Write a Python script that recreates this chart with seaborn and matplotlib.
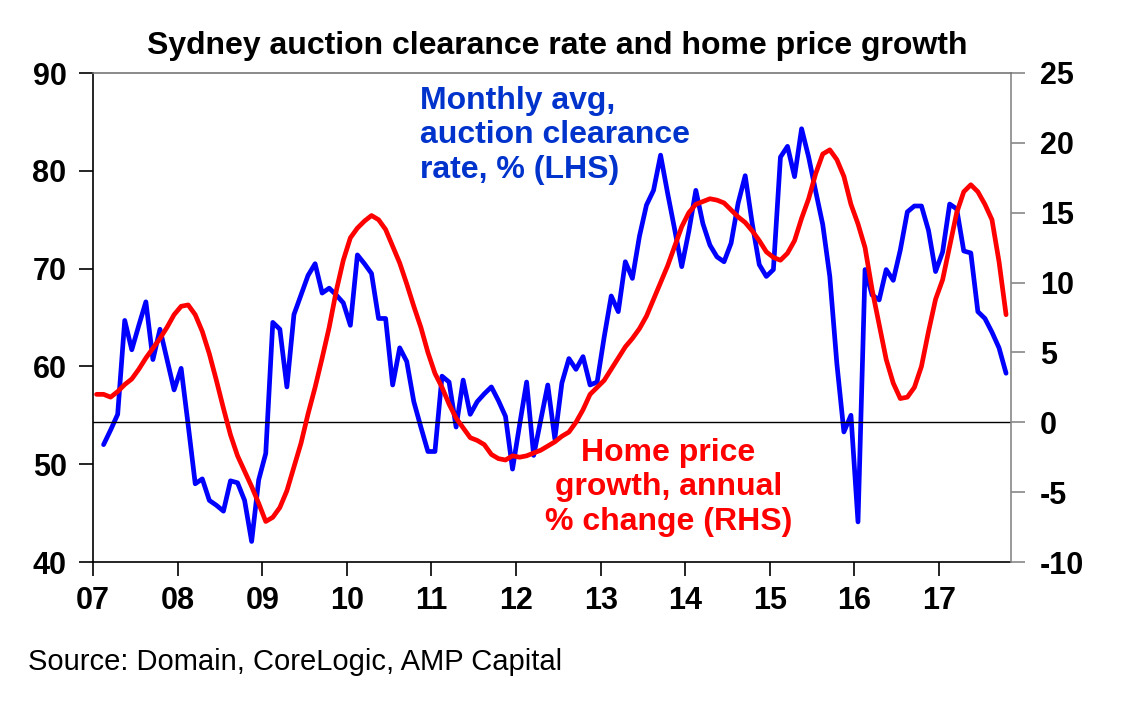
"""
Sydney auction clearance rate vs home price growth (twin axis line chart)
- output: out.png
"""
import numpy as np
import pandas as pd
import matplotlib
matplotlib.use("Agg")
import matplotlib.pyplot as plt
import seaborn as sns

sns.set_style("ticks")
plt.rcParams["font.family"] = ["Liberation Sans", "DejaVu Sans"]
plt.rcParams["axes.unicode_minus"] = False

# monthly avg auction clearance rate, %, Feb 2007 .. Oct 2017 (LHS)
clearance = [
    52.0, 53.5, 55.1, 64.7, 61.7, 64.2, 66.6, 60.7, 63.8, 60.7, 57.6,
    59.8, 54.0, 48.0, 48.5, 46.3, 45.8, 45.2, 48.3, 48.1, 46.3, 42.1, 48.4,
    51.1, 64.5, 63.8, 57.9, 65.3, 67.3, 69.3, 70.5, 67.5, 68.0, 67.3, 66.5,
    64.2, 71.4, 70.5, 69.5, 64.9, 64.9, 58.1, 61.9, 60.5, 56.4, 53.8, 51.3,
    51.3, 59.0, 58.4, 53.8, 58.6, 55.1, 56.4, 57.2, 57.9, 56.5, 54.9, 49.5,
    54.0, 58.4, 50.9, 54.5, 58.1, 52.6, 58.3, 60.8, 59.7, 61.0, 58.1, 58.4,
    63.0, 67.2, 65.6, 70.7, 69.0, 73.3, 76.5, 78.0, 81.6, 77.7, 74.0, 70.2,
    73.8, 78.0, 74.6, 72.4, 71.2, 70.7, 72.6, 76.7, 79.5, 74.6, 70.4, 69.2,
    69.9, 81.4, 82.5, 79.4, 84.3, 81.4, 77.9, 74.5, 69.2, 60.3, 53.3, 55.0,
    44.1, 69.9, 67.3, 66.8, 69.9, 68.8, 71.9, 75.8, 76.4, 76.4, 73.9, 69.7,
    71.7, 76.6, 76.1, 71.8, 71.6, 65.6, 64.9, 63.5, 61.9, 59.3,
]

# home price growth, annual % change, Jan 2007 .. Oct 2017 (RHS)
price_growth = [
    2.0, 2.0, 1.8, 2.2, 2.7, 3.1, 3.8, 4.6, 5.3, 6.0, 6.8, 7.7,
    8.3, 8.4, 7.7, 6.5, 4.9, 3.0, 1.0, -0.9, -2.4, -3.5, -4.6, -5.8,
    -7.1, -6.8, -6.1, -4.9, -3.2, -1.5, 0.6, 2.5, 4.6, 6.8, 9.4, 11.6,
    13.2, 13.9, 14.4, 14.8, 14.5, 13.8, 12.6, 11.4, 9.9, 8.3, 6.8, 5.0,
    3.5, 2.5, 1.3, 0.3, -0.4, -1.1, -1.3, -1.6, -2.3, -2.6, -2.7, -2.4,
    -2.5, -2.4, -2.2, -2.0, -1.7, -1.4, -1.0, -0.7, 0.0, 0.9, 2.0, 2.5,
    3.0, 3.8, 4.6, 5.4, 6.0, 6.7, 7.6, 8.8, 10.0, 11.2, 12.6, 14.0,
    15.0, 15.6, 15.8, 16.0, 15.9, 15.7, 15.2, 14.7, 14.3, 13.7, 13.0, 12.2,
    11.8, 11.6, 12.1, 13.0, 14.6, 16.0, 17.8, 19.2, 19.5, 18.8, 17.6, 15.6,
    14.2, 12.5, 9.5, 7.0, 4.5, 2.8, 1.7, 1.8, 2.5, 4.0, 6.5, 8.8,
    10.2, 12.6, 15.0, 16.5, 17.0, 16.5, 15.6, 14.5, 11.5, 7.7,
]

year_ticks = list(range(2007, 2018))
year_labels = ["07", "08", "09", "10", "11", "12", "13", "14", "15", "16", "17"]
lhs_ticks = [40, 50, 60, 70, 80, 90]
rhs_ticks = [-10, -5, 0, 5, 10, 15, 20, 25]

# mid-month positions in decimal years
blue_x = 2007 + (np.arange(1, len(clearance) + 1) + 0.5) / 12
red_x = 2007 + (np.arange(len(price_growth)) + 0.5) / 12
df_c = pd.DataFrame({"t": blue_x, "rate": clearance})
df_p = pd.DataFrame({"t": red_x, "growth": price_growth})

W, H = 1139, 709
fig = plt.figure(figsize=(W / 100, H / 100), dpi=100)
ax = fig.add_axes([93 / W, 1 - 562 / H, (1011 - 93) / W, (562 - 73) / H])
ax2 = ax.twinx()

sns.lineplot(data=df_c, x="t", y="rate", ax=ax, color="#0000ff", linewidth=3.4)
sns.lineplot(data=df_p, x="t", y="growth", ax=ax2, color="#ff0000", linewidth=3.4)
ax2.axhline(0, color="black", linewidth=1.0, zorder=1)

ax.set_xlim(2007, 2017.85)
ax.set_ylim(40, 90)
ax2.set_ylim(-10, 25)
ax.set_xticks(year_ticks)
ax.set_xticklabels(year_labels)
ax.set_yticks(lhs_ticks)
ax2.set_yticks(rhs_ticks)
ax.set_xlabel(""); ax.set_ylabel("")
ax2.set_xlabel(""); ax2.set_ylabel("")

for lab in ax.get_xticklabels() + ax.get_yticklabels() + ax2.get_yticklabels():
    lab.set_fontsize(22)
    lab.set_fontweight("bold")
ax.tick_params(axis="x", direction="out", length=10, width=1.2, pad=7, colors="black")
ax.tick_params(axis="y", direction="out", length=10, width=1.2, pad=9, colors="black")
ax2.tick_params(axis="y", direction="out", length=10, width=1.2, pad=11,
                color="#888888", labelcolor="black")

for s in ["top", "right"]:
    ax.spines[s].set_visible(False)
for s in ["left", "bottom"]:
    ax2.spines[s].set_visible(False)
ax.spines["left"].set_color("black")
ax.spines["bottom"].set_color("black")
ax.spines["left"].set_linewidth(1.2)
ax.spines["bottom"].set_linewidth(1.2)
ax2.spines["top"].set_color("#777777")
ax2.spines["right"].set_color("#888888")
ax2.spines["top"].set_linewidth(1.2)
ax2.spines["right"].set_linewidth(1.2)

fig.text(557 / W, 1 - 46 / H, "Sydney auction clearance rate and home price growth",
         ha="center", va="center", fontsize=23, fontweight="bold", color="black")

ax.text(2010.87, 88.7, "Monthly avg,\nauction clearance\nrate, % (LHS)",
        ha="left", va="top", fontsize=23, fontweight="bold", color="#0033cc",
        linespacing=1.2)
ax.text(2013.80, 52.7, "Home price\ngrowth, annual\n% change (RHS)",
        ha="center", va="top", fontsize=23, fontweight="bold", color="#ff0000",
        linespacing=1.2, zorder=5)

fig.text(28 / W, 1 - 662 / H, "Source: Domain, CoreLogic, AMP Capital",
         ha="left", va="center", fontsize=21, color="black")

fig.savefig("out.png", dpi=100)
plt.close(fig)
